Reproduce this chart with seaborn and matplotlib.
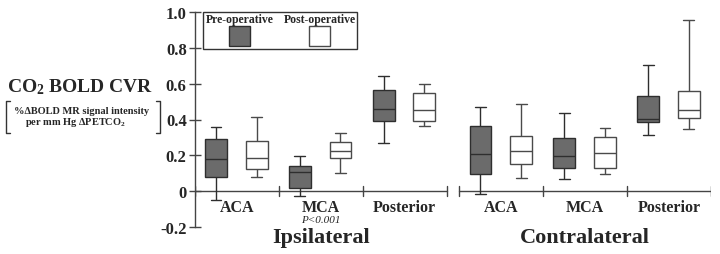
import numpy as np
import pandas as pd
import matplotlib
matplotlib.use("Agg")
import matplotlib.pyplot as plt
from matplotlib.patches import Rectangle
from matplotlib.lines import Line2D
import seaborn as sns

# ---------------- data (five-number summaries: min, q1, median, q3, max) -------------
sides = ["Ipsilateral", "Contralateral"]
territories = ["ACA", "MCA", "Posterior"]
phases = ["Pre-operative", "Post-operative"]

ipsi_pre = [
    [-0.048, 0.077, 0.179, 0.290, 0.356],   # ACA
    [-0.026, 0.015, 0.108, 0.141, 0.197],   # MCA
    [0.268, 0.393, 0.458, 0.566, 0.644],    # Posterior
]
ipsi_post = [
    [0.080, 0.123, 0.183, 0.281, 0.415],
    [0.104, 0.184, 0.222, 0.272, 0.322],
    [0.361, 0.389, 0.452, 0.546, 0.598],
]
contra_pre = [
    [-0.017, 0.095, 0.210, 0.365, 0.467],
    [0.067, 0.127, 0.194, 0.294, 0.434],
    [0.313, 0.387, 0.402, 0.532, 0.706],
]
contra_post = [
    [0.071, 0.151, 0.222, 0.307, 0.486],
    [0.095, 0.132, 0.214, 0.300, 0.350],
    [0.346, 0.406, 0.452, 0.557, 0.955],
]
p_labels = {("Ipsilateral", "MCA"): "P<0.001"}
yticks = [-0.2, 0, 0.2, 0.4, 0.6, 0.8, 1.0]

# ---------------- layout helpers ----------------
side_gap = 0.155
side_start = {"Ipsilateral": 0.0, "Contralateral": 3.0 + side_gap}
phase_off = {"Pre-operative": 0.25, "Post-operative": 0.735}
summaries = {
    ("Ipsilateral", "Pre-operative"): ipsi_pre,
    ("Ipsilateral", "Post-operative"): ipsi_post,
    ("Contralateral", "Pre-operative"): contra_pre,
    ("Contralateral", "Post-operative"): contra_post,
}

rows = []
for (side, phase), arr in summaries.items():
    for i, terr in enumerate(territories):
        pos = side_start[side] + i + phase_off[phase]
        for v in arr[i]:
            rows.append({"side": side, "territory": terr, "phase": phase,
                         "pos": pos, "value": v})
df = pd.DataFrame(rows)

sns.set_style("white")
plt.rcParams["font.family"] = ["Liberation Serif", "DejaVu Serif"]
plt.rcParams["font.weight"] = "bold"
plt.rcParams["mathtext.fontset"] = "custom"
plt.rcParams["mathtext.rm"] = "Liberation Serif:bold"
plt.rcParams["mathtext.it"] = "Liberation Serif:italic:bold"
plt.rcParams["mathtext.bf"] = "Liberation Serif:bold"

fig = plt.figure(figsize=(7.2, 2.55), dpi=100)
ax = fig.add_axes([195 / 720, 27 / 255, 516 / 720, 215 / 255])

fills = {"Pre-operative": "#6b6b6b", "Post-operative": "#ffffff"}
edges = {"Pre-operative": "#2e2e2e", "Post-operative": "#4a4a4a"}
for phase in phases:
    sub = df[df["phase"] == phase]
    sns.boxplot(data=sub, x="pos", y="value", native_scale=True, width=0.26,
                whis=np.inf, color=fills[phase], linecolor=edges[phase],
                linewidth=1.0, saturation=1, ax=ax)

xmax = side_start["Contralateral"] + 3
ax.set_xlim(0, xmax)
ax.set_ylim(-0.2, 1.0)
ax.set_xticks([])
ax.set_xlabel("")
ax.set_ylabel("")
ax.set_yticks(yticks)
ax.set_yticklabels(["0" if v == 0 else f"{v:.1f}" for v in yticks],
                   fontsize=12, fontweight="bold")
ax.tick_params(axis="y", direction="inout", length=8, width=1, color="#444444",
               left=True, pad=2)
for s in ["top", "right", "bottom"]:
    ax.spines[s].set_visible(False)
ax.spines["left"].set_color("#444444")
ax.spines["left"].set_linewidth(1)

# segmented x axis at y = 0
tick_h = 0.028
for side in sides:
    x0 = side_start[side]
    ax.plot([x0, x0 + 3], [0, 0], color="#444444", lw=1, zorder=1)
    for k in range(4):
        ax.plot([x0 + k, x0 + k], [-tick_h, tick_h], color="#444444", lw=1, zorder=1)
    for i, terr in enumerate(territories):
        ax.text(x0 + i + 0.5, -0.09, terr, ha="center", va="center",
                fontsize=11.5, fontweight="bold", transform=ax.transData)
        if (side, terr) in p_labels:
            ax.text(x0 + i + 0.5, -0.16, p_labels[(side, terr)], ha="center",
                    va="center", fontsize=8, style="italic", fontweight="normal")
    ax.text(x0 + 1.5, -0.257, side, ha="center", va="center", fontsize=16,
            fontweight="bold", clip_on=False)

# legend box
ax.add_patch(Rectangle((0.0155, 0.828), 0.2985, 0.172, transform=ax.transAxes,
                       facecolor="white", edgecolor="#333333", lw=1, zorder=5,
                       clip_on=False))
leg_x = {"Pre-operative": 0.0865, "Post-operative": 0.2415}
for phase in phases:
    ax.text(leg_x[phase], 0.967, phase, transform=ax.transAxes, ha="center",
            va="center", fontsize=8.5, fontweight="bold", zorder=6)
    ax.add_patch(Rectangle((leg_x[phase] - 0.0205, 0.842), 0.041, 0.095,
                           transform=ax.transAxes, facecolor=fills[phase],
                           edgecolor=edges[phase], lw=1, zorder=6, clip_on=False))

# y-axis title
fig.text(80 / 720, (255 - 87) / 255, r"CO$_\mathrm{2}$ BOLD CVR", ha="center",
         va="center", fontsize=14, fontweight="bold")
fig.text(82 / 720, (255 - 112) / 255, "%ΔBOLD MR signal intensity", ha="center",
         va="center", fontsize=7.5, fontweight="bold")
fig.text(76 / 720, (255 - 123) / 255, r"per mm Hg ΔPETCO$_\mathrm{2}$", ha="center",
         va="center", fontsize=7.5, fontweight="bold")
W, H = 720, 255
for xb, d in [(6, 1), (160, -1)]:
    xs = [xb + 4 * d, xb, xb, xb + 4 * d]
    ys = [102, 102, 134, 134]
    fig.add_artist(Line2D([x / W for x in xs], [(H - y) / H for y in ys],
                          color="#333333", lw=1, transform=fig.transFigure))

fig.savefig("out.png", dpi=100)
